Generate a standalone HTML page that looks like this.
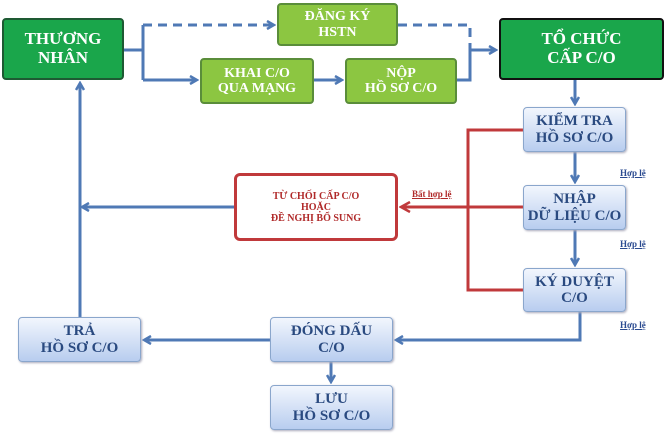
<!DOCTYPE html>
<html><head><meta charset="utf-8"><style>
body{margin:0;background:#fff;width:670px;height:441px;overflow:hidden;position:relative;font-family:"Liberation Serif",serif;}
.b{position:absolute;box-sizing:border-box;display:flex;align-items:center;justify-content:center;text-align:center;font-weight:bold;line-height:1.1;border-radius:4px}
.dg{background:#1aa64b;border:2px solid #1e5a33;color:#fff;font-size:17px}
.lg{background:#8cc641;border:2px solid #5a8d3a;color:#fff;font-size:14px}
.bl{background:linear-gradient(#f2f6fd,#b8cdef);border:1px solid #8aa6cc;color:#2a4a80;font-size:15px;box-shadow:1px 1px 2px #aab}
.hl{position:absolute;font-size:9px;font-weight:bold;color:#2a4a90;text-decoration:underline}
</style></head><body>
<svg width="670" height="441" style="position:absolute;left:0;top:0">
<defs><marker id="a" markerWidth="10" markerHeight="10" refX="8" refY="5" orient="auto" markerUnits="userSpaceOnUse"><path d="M1,1L8,5L1,9" fill="none" stroke="#4f79b5" stroke-width="2.5"/></marker>
<marker id="r" markerWidth="12" markerHeight="12" refX="10" refY="6" orient="auto" markerUnits="userSpaceOnUse"><path d="M1,1L10,6L1,11" fill="none" stroke="#c0393b" stroke-width="2.5"/></marker></defs>
<g stroke="#4f79b5" stroke-width="3" fill="none">
<path d="M124,50H143M143,25V80"/>
<path d="M143,25H274" stroke-dasharray="9,6" marker-end="url(#a)"/>
<path d="M143,80H197" marker-end="url(#a)"/>
<path d="M314,80H342" marker-end="url(#a)"/>
<path d="M398,25H470V80" stroke-dasharray="9,6"/>
<path d="M457,80H470V50"/>
<path d="M470,50H496" marker-end="url(#a)"/>
<path d="M575,80V104" marker-end="url(#a)"/>
<path d="M575,152V182" marker-end="url(#a)"/>
<path d="M575,230V265" marker-end="url(#a)"/>
<path d="M580,312V340H396" marker-end="url(#a)"/>
<path d="M270,340H144" marker-end="url(#a)"/>
<path d="M331,362V382" marker-end="url(#a)"/>
<path d="M234,207H82" marker-end="url(#a)"/>
<path d="M80,317V83" marker-end="url(#a)"/>
</g>
<g stroke="#c0393b" stroke-width="3" fill="none">
<path d="M523,130H468V290H523M523,207H401" marker-end="url(#r)"/>
</g>
</svg>
<div class="b dg" style="left:2px;top:18px;width:122px;height:62px">THƯƠNG<br>NHÂN</div>
<div class="b lg" style="left:277px;top:3px;width:121px;height:43px">ĐĂNG KÝ<br>HSTN</div>
<div class="b lg" style="left:200px;top:58px;width:114px;height:46px">KHAI C/O<br>QUA MẠNG</div>
<div class="b lg" style="left:345px;top:58px;width:112px;height:46px">NỘP<br>HỒ SƠ C/O</div>
<div class="b dg" style="left:499px;top:18px;width:165px;height:62px;border-color:#111">TỔ CHỨC<br>CẤP C/O</div>
<div class="b bl" style="left:523px;top:107px;width:103px;height:45px">KIỂM TRA<br>HỒ SƠ C/O</div>
<div class="b bl" style="left:523px;top:185px;width:103px;height:45px">NHẬP<br>DỮ LIỆU C/O</div>
<div class="b bl" style="left:523px;top:268px;width:103px;height:44px">KÝ DUYỆT<br>C/O</div>
<div class="b" style="left:234px;top:173px;width:164px;height:68px;border:3px solid #c0393b;background:#fff;color:#b02a2a;font-size:10px;border-radius:6px">TỪ CHỐI CẤP C/O<br>HOẶC<br>ĐỀ NGHỊ BỔ SUNG</div>
<div class="b bl" style="left:18px;top:317px;width:123px;height:45px">TRẢ<br>HỒ SƠ C/O</div>
<div class="b bl" style="left:270px;top:317px;width:123px;height:45px">ĐÓNG DẤU<br>C/O</div>
<div class="b bl" style="left:270px;top:385px;width:123px;height:45px">LƯU<br>HỒ SƠ C/O</div>
<div class="hl" style="left:620px;top:168px">Hợp lệ</div>
<div class="hl" style="left:620px;top:239px">Hợp lệ</div>
<div class="hl" style="left:620px;top:320px">Hợp lệ</div>
<div class="hl" style="left:412px;top:189px;color:#b02a2a">Bất hợp lệ</div>
</body></html>
